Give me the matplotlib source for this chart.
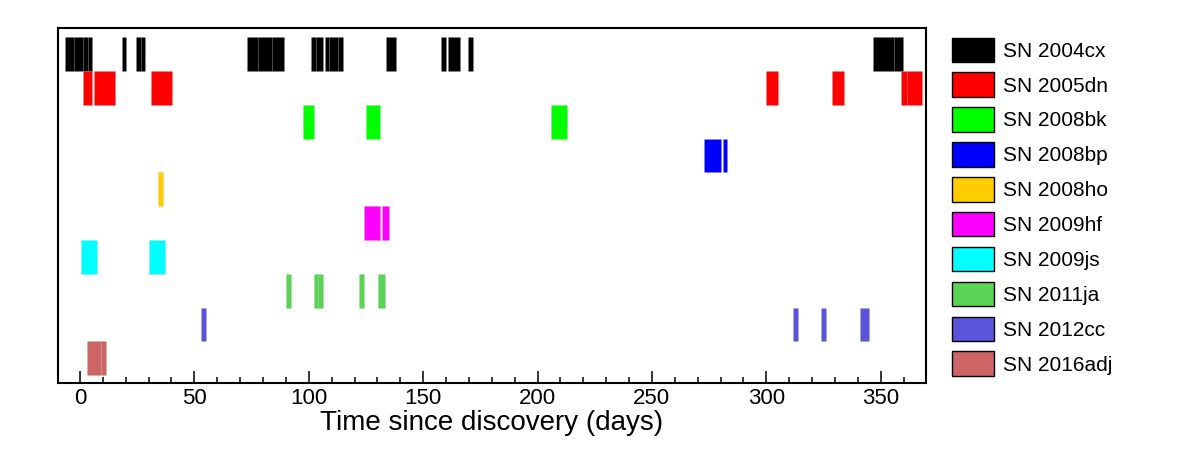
import matplotlib
matplotlib.use("Agg")
import matplotlib.pyplot as plt
from matplotlib.patches import Patch
from matplotlib.ticker import MultipleLocator

plt.rcParams['font.family'] = ['Liberation Sans', 'DejaVu Sans']

names = ["SN 2004cx", "SN 2005dn", "SN 2008bk", "SN 2008bp", "SN 2008ho",
         "SN 2009hf", "SN 2009js", "SN 2011ja", "SN 2012cc", "SN 2016adj"]
colors = ["#000000", "#ff0000", "#00ff00", "#0000ff", "#ffcc00",
          "#ff00ff", "#00ffff", "#59d454", "#5954d9", "#cc6666"]

# observation intervals (start day, end day)
sn2004cx = [(-6.6, -2.6), (-2.6, 1.5), (1.5, 3.3), (3.3, 5.4), (18.5, 20.3),
            (24.5, 26.5), (26.5, 28.4), (73.2, 78.0), (78.0, 84.0), (84.0, 89.0),
            (101.1, 103.1), (103.1, 106.1), (107.1, 109.0), (109.0, 112.9),
            (112.9, 115.1), (133.9, 138.0), (157.9, 160.2), (161.0, 166.1),
            (169.7, 171.9), (346.7, 355.9), (355.9, 359.8)]
sn2005dn = [(1.2, 5.2), (6.3, 15.3), (31.0, 40.2), (299.8, 304.9),
            (328.8, 333.9), (358.7, 361.6), (361.6, 367.9)]
sn2008bk = [(97.3, 102.2), (125.1, 131.1), (205.9, 212.7)]
sn2008bp = [(272.7, 280.0), (281.0, 283.0)]
sn2008ho = [(34.1, 36.3)]
sn2009hf = [(124.0, 131.0), (132.0, 134.9)]
sn2009js = [(0.3, 7.3), (30.2, 37.2)]
sn2011ja = [(90.2, 92.2), (102.1, 104.2), (104.2, 106.2), (122.1, 124.1),
            (130.1, 133.2)]
sn2012cc = [(52.9, 54.9), (311.8, 314.0), (323.7, 325.9), (340.8, 344.7)]
sn2016adj = [(2.9, 9.0), (9.0, 11.4)]

intervals = [sn2004cx, sn2005dn, sn2008bk, sn2008bp, sn2008ho,
             sn2009hf, sn2009js, sn2011ja, sn2012cc, sn2016adj]

fig = plt.figure(figsize=(11.82, 4.5), dpi=100)
ax = fig.add_axes([0.0488, 0.15, 0.7346, 0.7878])

for i, (ivs, c) in enumerate(zip(intervals, colors)):
    ax.broken_barh([(s, e - s) for s, e in ivs], (i, 1), facecolors=c,
                   edgecolor=(0.6, 0.6, 0.6, 0.2), linewidth=0.4)

ax.set_xlim(-9.75, 369.8)
ax.set_ylim(10.213, -0.275)
ax.set_yticks([])
ax.xaxis.set_major_locator(MultipleLocator(50))
ax.xaxis.set_minor_locator(MultipleLocator(10))
ax.tick_params(axis='x', which='major', direction='in', length=8.6, width=1.1,
               labelsize=16, pad=4)
ax.tick_params(axis='x', which='minor', direction='in', length=4.3, width=1.1)
for sp in ax.spines.values():
    sp.set_linewidth(1.5)
ax.set_xlabel("Time since discovery (days)", fontsize=20, labelpad=1)

handles = [Patch(facecolor=c, edgecolor='black', linewidth=1.0) for c in colors]
fig.legend(handles, names, loc='upper left',
           bbox_to_anchor=(952 / 1182, 1 - 37.5 / 450),
           frameon=False, fontsize=15, borderpad=0, borderaxespad=0,
           handlelength=2.02, handleheight=1.43, labelspacing=0.5,
           handletextpad=0.42)

fig.savefig("out.png", dpi=100)
